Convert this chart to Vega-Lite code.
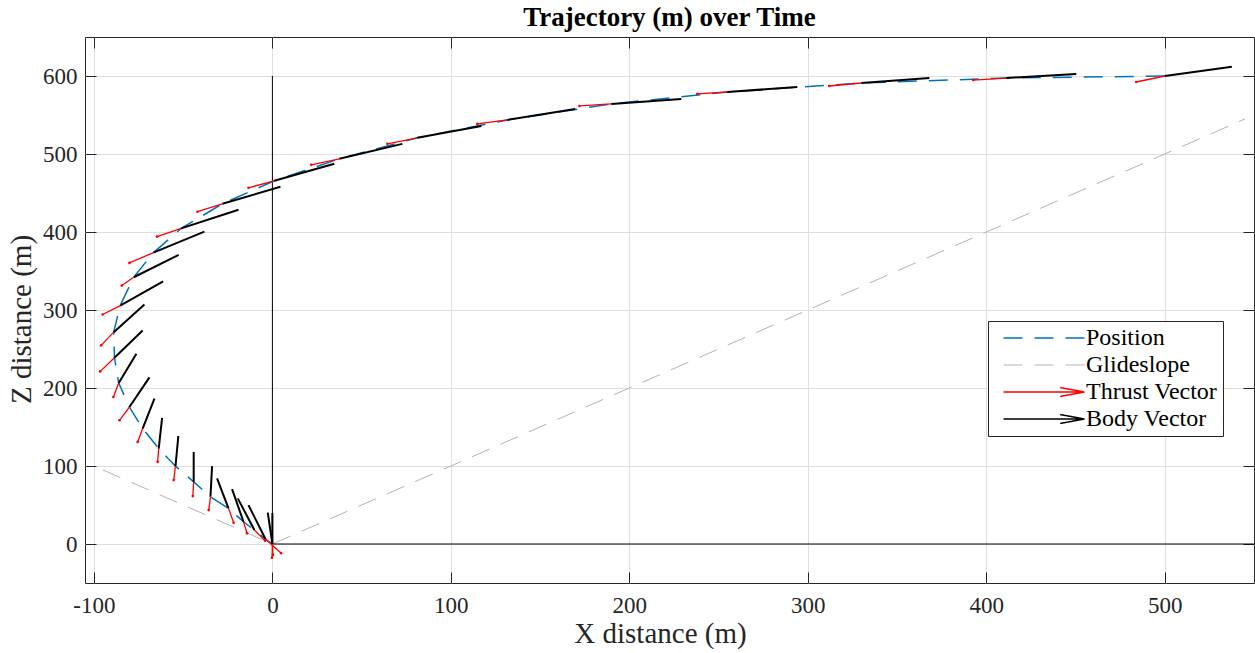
{
 "$schema": "https://vega.github.io/schema/vega-lite/v6.json",
 "width": 1169, "height": 546,
 "autosize": {"type": "none"},
 "padding": {"left": 85, "top": 37, "right": 1, "bottom": 70},
 "background": "white",
 "config": {
   "view": {"stroke": "#262626", "strokeWidth": 1},
   "font": "Liberation Serif"
 },
 "title": {"text": "Trajectory (m) over Time", "font": "Liberation Serif", "fontSize": 27, "fontWeight": "bold", "color": "#000000", "offset": -16, "baseline": "alphabetic", "anchor": "middle"},
 "datasets": {
   "pts": [
     {"i": 1, "x": 500, "z": 600, "tx": 484, "tz": 592.3, "bx": 537.6, "bz": 611.9},
     {"i": 2, "x": 411.2, "z": 597.4, "tx": 392.7, "tz": 594.8, "bx": 450.4, "bz": 602.5},
     {"i": 3, "x": 330, "z": 591, "tx": 312, "tz": 587.2, "bx": 368.1, "bz": 597.4},
     {"i": 4, "x": 254.9, "z": 579.5, "tx": 238.1, "tz": 577, "bx": 294.1, "bz": 585.9},
     {"i": 5, "x": 189.9, "z": 564.2, "tx": 172, "tz": 561.6, "bx": 229.1, "bz": 570.6},
     {"i": 6, "x": 131.7, "z": 543.7, "tx": 114.8, "tz": 538.6, "bx": 169.7, "bz": 557.8},
     {"i": 7, "x": 81.2, "z": 520.7, "tx": 64.4, "tz": 513, "bx": 117.1, "bz": 536},
     {"i": 8, "x": 37.5, "z": 493.8, "tx": 21.8, "tz": 486.1, "bx": 72.8, "bz": 513},
     {"i": 9, "x": 1.1, "z": 465.7, "tx": -13.4, "tz": 456.7, "bx": 34.7, "bz": 487.4},
     {"i": 10, "x": -28, "z": 436.2, "tx": -42, "tz": 426, "bx": 4.5, "bz": 458},
     {"i": 11, "x": -51.1, "z": 404.6, "tx": -64.6, "tz": 394, "bx": -19, "bz": 428.6},
     {"i": 12, "x": -66.7, "z": 373.5, "tx": -80.1, "tz": 360.4, "bx": -38.1, "bz": 400.4},
     {"i": 13, "x": -77.7, "z": 342, "tx": -84.4, "tz": 331.3, "bx": -52.5, "bz": 370.6},
     {"i": 14, "x": -85.3, "z": 305.7, "tx": -95.1, "tz": 294.2, "bx": -61.2, "bz": 336.8},
     {"i": 15, "x": -88.9, "z": 271.6, "tx": -96, "tz": 254.6, "bx": -71.7, "bz": 307},
     {"i": 16, "x": -88.5, "z": 238.8, "tx": -96.5, "tz": 221.3, "bx": -72.7, "bz": 273.8},
     {"i": 17, "x": -86.1, "z": 206.3, "tx": -89.1, "tz": 188.5, "bx": -76.2, "bz": 243.9},
     {"i": 18, "x": -80.1, "z": 175.6, "tx": -85.7, "tz": 158.6, "bx": -68.9, "bz": 213.6},
     {"i": 19, "x": -72.7, "z": 148, "tx": -75.5, "tz": 130.9, "bx": -66.1, "bz": 186.4},
     {"i": 20, "x": -63.7, "z": 122.4, "tx": -64.3, "tz": 105.3, "bx": -61.8, "bz": 161.6},
     {"i": 21, "x": -54.3, "z": 99.8, "tx": -55.3, "tz": 81.9, "bx": -52.7, "bz": 138.5},
     {"i": 22, "x": -44.1, "z": 79.7, "tx": -44.6, "tz": 61.4, "bx": -44.1, "bz": 118.1},
     {"i": 23, "x": -34.7, "z": 60.5, "tx": -35.7, "tz": 43.5, "bx": -33.8, "bz": 99.8},
     {"i": 24, "x": -24.6, "z": 45.7, "tx": -21.7, "tz": 27.2, "bx": -31, "bz": 84},
     {"i": 25, "x": -16.2, "z": 28.5, "tx": -14.2, "tz": 13.7, "bx": -22.6, "bz": 70.4},
     {"i": 26, "x": -10.1, "z": 17.9, "tx": -4.1, "tz": 4.2, "bx": -19.4, "bz": 58.5},
     {"i": 27, "x": -3.9, "z": 6.4, "tx": 4.9, "tz": -11.9, "bx": -13.4, "bz": 49.9},
     {"i": 28, "x": 0, "z": 0, "tx": -0.2, "tz": -17.5, "bx": -2.6, "bz": 40.3},
     {"i": 29, "x": 0, "z": 0, "tx": 0.3, "tz": -14, "bx": 0, "bz": 39.7}
   ],
   "glide": [
     {"i": 0, "x": -95, "z": 95},
     {"i": 1, "x": 0, "z": 0},
     {"i": 2, "x": 545, "z": 545}
   ],
   "refs": [
     {"x": 0, "z": 0, "x2": 0, "z2": 600},
     {"x": 0, "z": 0, "x2": 550, "z2": 0}
   ]
 },
 "layer": [
   {
     "data": {"name": "glide"},
     "mark": {"type": "line", "strokeWidth": 1, "strokeDash": [19, 12]},
     "encoding": {
       "x": {"field": "x", "type": "quantitative",
             "scale": {"domain": [-105, 550], "nice": false, "zero": false},
             "axis": {"orient": "bottom", "values": [-100, 0, 100, 200, 300, 400, 500], "labelExpr": "'' + datum.value",
                      "tickSize": -11, "tickColor": "#262626", "tickWidth": 1, "domain": false,
                      "grid": true, "gridColor": "#dfdfdf", "gridWidth": 1,
                      "labelFont": "Liberation Serif", "labelFontSize": 23, "labelColor": "#262626", "labelPadding": 22,
                      "title": "X distance (m)", "titleFont": "Liberation Serif", "titleFontSize": 29, "titleFontWeight": "normal", "titleColor": "#262626", "titlePadding": 2, "titleX": 575}},
       "y": {"field": "z", "type": "quantitative",
             "scale": {"domain": [-50, 650], "nice": false, "zero": false},
             "axis": {"orient": "left", "values": [0, 100, 200, 300, 400, 500, 600], "labelExpr": "'' + datum.value",
                      "tickSize": -11, "tickColor": "#262626", "tickWidth": 1, "domain": false,
                      "grid": true, "gridColor": "#dfdfdf", "gridWidth": 1,
                      "labelFont": "Liberation Serif", "labelFontSize": 23, "labelColor": "#262626", "labelPadding": 19,
                      "title": "Z distance (m)", "titleFont": "Liberation Serif", "titleFontSize": 29, "titleFontWeight": "normal", "titleColor": "#262626", "titlePadding": 6, "titleY": 282}},
       "order": {"field": "i", "type": "quantitative"},
       "color": {"datum": "Glideslope", "type": "nominal",
                 "scale": {"domain": ["Position", "Glideslope", "Thrust Vector", "Body Vector"], "range": ["#0072BD", "#b3b3b3", "#ff0000", "#000000"]},
                 "legend": {"orient": "none", "legendX": 903, "legendY": 284, "title": null,
                            "symbolType": "M-3,0H3", "symbolSize": 729, "symbolStrokeWidth": 1.5, "symbolOffset": 39,
                            "labelFont": "Liberation Serif", "labelFontSize": 24, "labelColor": "#000000", "labelOffset": 30,
                            "rowPadding": 3, "padding": 5,
                            "fillColor": "white", "strokeColor": "#262626",
                            "encode": {"symbols": {"update": {
                               "strokeDash": {"signal": "indexof(['Position','Glideslope'], datum.value) >= 0 ? [19,12] : [1,0]"},
                               "shape": {"signal": "indexof(['Thrust Vector','Body Vector'], datum.value) >= 0 ? 'M-3,0H3M1.2,-0.33L3,0L1.2,0.33' : 'M-3,0H3'"},
                               "fill": {"value": "transparent"},
                               "stroke": {"signal": "scale('color', datum.value)"},
                               "strokeWidth": {"signal": "datum.value === 'Glideslope' ? 1 : 1.5"}
                            }}}}}
     }
   },
   {
     "data": {"name": "refs"},
     "mark": {"type": "rule", "color": "#000000", "strokeWidth": 1},
     "encoding": {
       "x": {"field": "x", "type": "quantitative",
             "axis": {"orient": "top", "values": [-100, 0, 100, 200, 300, 400, 500], "labels": false, "tickSize": -11, "tickColor": "#262626", "domain": false, "grid": false, "title": null}},
       "y": {"field": "z", "type": "quantitative",
             "axis": {"orient": "right", "values": [0, 100, 200, 300, 400, 500, 600], "labels": false, "tickSize": -11, "tickColor": "#262626", "domain": false, "grid": false, "title": null}},
       "x2": {"field": "x2"},
       "y2": {"field": "z2"}
     }
   },
   {
     "data": {"name": "pts"},
     "mark": {"type": "line", "strokeWidth": 1.5, "strokeDash": [19, 12]},
     "encoding": {
       "x": {"field": "x", "type": "quantitative", "axis": null},
       "y": {"field": "z", "type": "quantitative", "axis": null},
       "order": {"field": "i", "type": "quantitative"},
       "color": {"datum": "Position", "type": "nominal"}
     }
   },
   {
     "data": {"name": "pts"},
     "mark": {"type": "rule", "strokeWidth": 1.3},
     "encoding": {
       "x": {"field": "x", "type": "quantitative", "axis": null},
       "y": {"field": "z", "type": "quantitative", "axis": null},
       "x2": {"field": "tx"},
       "y2": {"field": "tz"},
       "color": {"datum": "Thrust Vector", "type": "nominal"}
     }
   },
   {
     "data": {"name": "pts"},
     "mark": {"type": "point", "filled": true, "size": 7, "color": "#ff0000", "opacity": 1},
     "encoding": {
       "x": {"field": "tx", "type": "quantitative", "axis": null},
       "y": {"field": "tz", "type": "quantitative", "axis": null}
     }
   },
   {
     "data": {"name": "pts"},
     "mark": {"type": "rule", "strokeWidth": 2},
     "encoding": {
       "x": {"field": "x", "type": "quantitative", "axis": null},
       "y": {"field": "z", "type": "quantitative", "axis": null},
       "x2": {"field": "bx"},
       "y2": {"field": "bz"},
       "color": {"datum": "Body Vector", "type": "nominal"}
     }
   }
 ],
 "resolve": {"axis": {"x": "independent", "y": "independent"}}
}
